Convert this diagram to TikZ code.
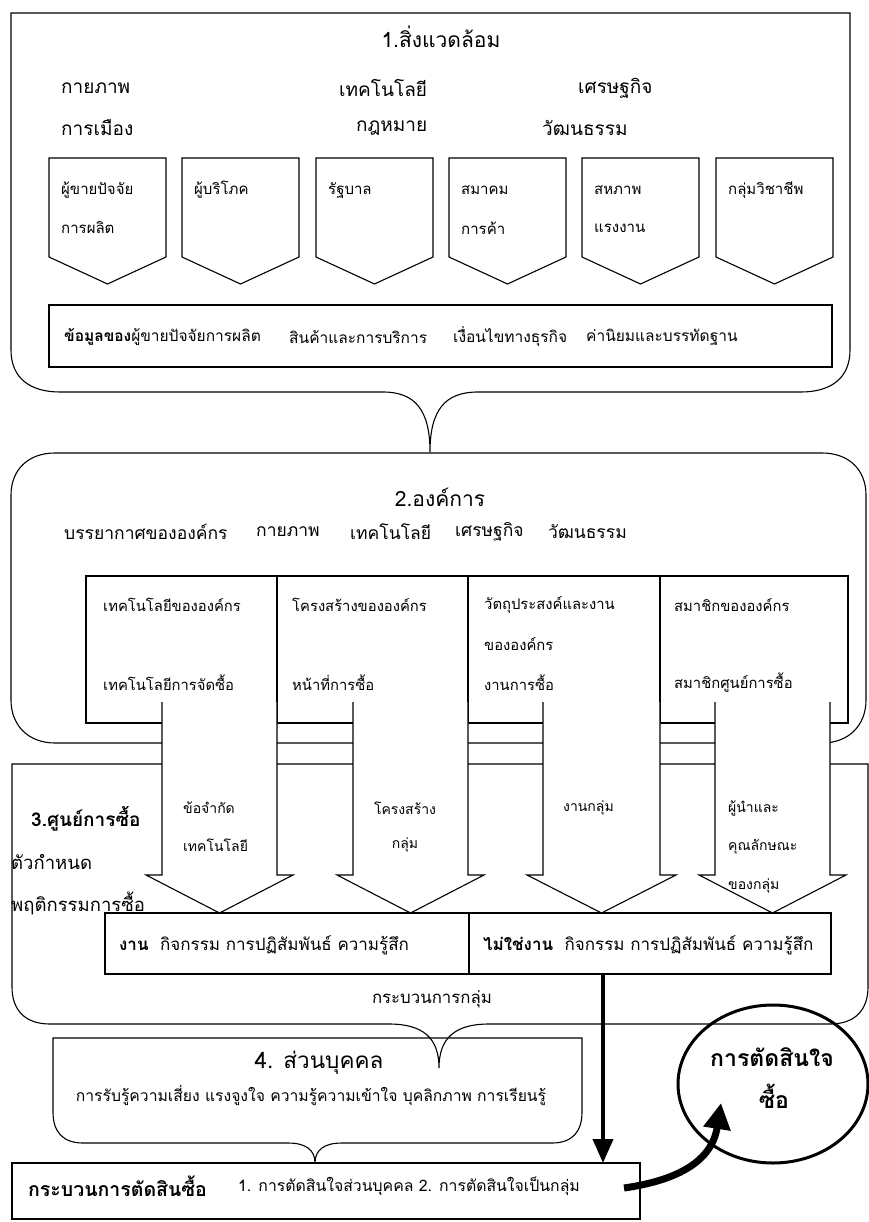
\documentclass[tikz,border=0pt]{standalone}
\usepackage{fontspec}
\newfontfamily\thai[Script=Thai]{Loma}
\usetikzlibrary{arrows.meta,calc,shapes.geometric}
\newcommand\tf[1]{\thai\fontsize{#1}{#1}\selectfont}
\begin{document}
\begin{tikzpicture}[x=1pt,y=-1pt,
  every node/.style={font=\tf{14.5}, inner sep=0pt},
  ln/.style={line width=1.1pt, line join=miter},
  lw/.style={anchor=west},
  ttl/.style={font=\tf{21}},
  envw/.style={anchor=west, font=\tf{19}},
  pent/.style={anchor=west, font=\tf{15}},
  info/.style={anchor=west, font=\tf{15.5}},
  orgw/.style={anchor=west, font=\tf{17.5}},
  cell/.style={anchor=west, font=\tf{14.8}},
  arr/.style={font=\tf{14}},
  side/.style={anchor=west, font=\tf{18.5}},
  tab/.style={anchor=west, font=\tf{17}},
  thickarr/.style={line width=4pt, -{Triangle[length=24pt,width=20pt]}},
]
\useasboundingbox (0,0) rectangle (869,1222);
\fill[white] (0,0) rectangle (869,1222);

% ---------- Box 1 ----------
\draw[ln] (430,452) .. controls (430,410) and (415,392) .. (383,392) -- (60,392)
  .. controls (30,392) and (11,378) .. (11,350) -- (11,13) -- (850,13) -- (850,350)
  .. controls (850,378) and (831,392) .. (801,392) -- (478,392)
  .. controls (445,392) and (430,410) .. (430,452);
\node[ttl] (t1) at (441,37) {1.สิ่งแวดล้อม};
\node[envw] (e1) at (61,88) {กายภาพ};
\node[envw] (e2) at (339,88) {เทคโนโลยี};
\node[envw] (e3) at (578,88) {เศรษฐกิจ};
\node[envw] (e4) at (61,128) {การเมือง};
\node[envw] (e5) at (356,128) {กฎหมาย};
\node[envw] (e6) at (542,128) {วัฒนธรรม};

\newcommand\pentshape[1]{\draw[ln] (#1,158) -- ++(117,0) -- ++(0,99) -- ++(-58.5,27) -- ++(-58.5,-27) -- cycle;}
\pentshape{49}\pentshape{182}\pentshape{316}\pentshape{449}\pentshape{582}\pentshape{716}
\node[pent] (p1a) at (61,190) {ผู้ขายปัจจัย};
\node[pent] (p1b) at (61,228) {การผลิต};
\node[pent] (p2a) at (194,190) {ผู้บริโภค};
\node[pent] (p3a) at (328,190) {รัฐบาล};
\node[pent] (p4a) at (461,190) {สมาคม};
\node[pent] (p4b) at (461,228) {การค้า};
\node[pent] (p5a) at (594,190) {สหภาพ};
\node[pent] (p5b) at (594,228) {แรงงาน};
\node[pent] (p6a) at (728,190) {กลุ่มวิชาชีพ};

\draw[ln] (49,305) rectangle (832,367);
\node[info] (i1) at (64,337) {\bfseries ข้อมูลของ\mdseries ผู้ขายปัจจัยการผลิต};
\node[info] (i2) at (289,337) {สินค้าและการบริการ};
\node[info] (i3) at (453,337) {เงื่อนไขทางธุรกิจ};
\node[info] (i4) at (586,337) {ค่านิยมและบรรทัดฐาน};

% ---------- Box 2 ----------
\draw[ln] (11,700) -- (11,495) .. controls (11,470) and (28,453) .. (55,453) -- (822,453)
  .. controls (849,453) and (866,470) .. (866,495) -- (866,700)
  .. controls (866,725) and (849,743) .. (822,743) -- (55,743)
  .. controls (28,743) and (11,725) .. (11,700);
\node[ttl] (t2) at (440,497) {2.องค์การ};
\node[orgw] (o1) at (64,532) {บรรยากาศขององค์กร};
\node[orgw] (o2) at (256,532) {กายภาพ};
\node[orgw] (o3) at (350,532) {เทคโนโลยี};
\node[orgw] (o4) at (455,532) {เศรษฐกิจ};
\node[orgw] (o5) at (548,532) {วัฒนธรรม};
\draw[ln] (86,576) rectangle (848,723);
\draw[ln] (277,576) -- (277,723) (468,576) -- (468,723) (660,576) -- (660,723);
\node[cell] (c1a) at (103,605) {เทคโนโลยีขององค์กร};
\node[cell] (c1b) at (103,683) {เทคโนโลยีการจัดซื้อ};
\node[cell] (c2a) at (292,605) {โครงสร้างขององค์กร};
\node[cell] (c2b) at (292,683) {หน้าที่การซื้อ};
\node[cell] (c3a) at (484,605) {วัตถุประสงค์และงาน};
\node[cell] (c3b) at (484,644) {ขององค์กร};
\node[cell] (c3c) at (484,683) {งานการซื้อ};
\node[cell] (c4a) at (674,605) {สมาชิกขององค์กร};
\node[cell] (c4b) at (674,683) {สมาชิกศูนย์การซื้อ};

% ---------- Box 3 ----------
\draw[ln] (12,764) -- (868,764) -- (868,987) .. controls (868,1010) and (855,1024) .. (830,1024)
  -- (489,1024) .. controls (455,1024) and (439,1038) .. (439,1068)
  .. controls (439,1038) and (423,1024) .. (389,1024) -- (50,1024)
  .. controls (25,1024) and (12,1010) .. (12,987) -- cycle;

% big hollow arrows
\foreach \L/\R in {162/277, 353/468, 543/660, 715/830}{
  \fill[white] (\L,702) -- (\L,875) -- (\L-16,875) -- ({(\L+\R)/2},913) -- (\R+16,875) -- (\R,875) -- (\R,702) -- cycle;
  \draw[ln] (\L,702) -- (\L,875) -- (\L-16,875) -- ({(\L+\R)/2},913) -- (\R+16,875) -- (\R,875) -- (\R,702);
}
\node[arr,anchor=west] (a1a) at (183,808) {ข้อจำกัด};
\node[arr,anchor=west] (a1b) at (183,845) {เทคโนโลยี};
\node[arr] (a2a) at (405,808) {โครงสร้าง};
\node[arr] (a2b) at (405,845) {กลุ่ม};
\node[arr,anchor=west] (a3a) at (563,808) {งานกลุ่ม};
\node[arr,anchor=west] (a4a) at (728,808) {ผู้นำและ};
\node[arr,anchor=west] (a4b) at (728,847) {คุณลักษณะ};
\node[arr,anchor=west] (a4c) at (728,886) {ของกลุ่ม};

\node[side,font=\thai\bfseries\fontsize{19}{19}\selectfont] (t3) at (31,819) {3.ศูนย์การซื้อ};
\node[side] (t3b) at (11,862) {ตัวกำหนด};
\node[side] (t3c) at (11,903) {พฤติกรรมการซื้อ};

\draw[ln] (105,913) rectangle (831,974);
\draw[ln] (469,913) -- (469,974);
\node[tab] (w1) at (119,945) {\bfseries งาน\mdseries\ \ กิจกรรม การปฏิสัมพันธ์ ความรู้สึก};
\node[tab] (w2) at (483,945) {\bfseries ไม่ใช่งาน\mdseries\ \ กิจกรรม การปฏิสัมพันธ์ ความรู้สึก};
\node[font=\tf{16.8}] (gp) at (432,999) {กระบวนการกลุ่ม};

% ---------- Box 4 ----------
\draw[ln] (53,1112) -- (53,1038) -- (582,1038) -- (582,1112)
  .. controls (582,1132) and (572,1143) .. (552,1143) -- (342,1143)
  .. controls (324,1143) and (315,1150) .. (315,1163)
  .. controls (315,1150) and (306,1143) .. (288,1143) -- (83,1143)
  .. controls (63,1143) and (53,1132) .. (53,1112);
\node[font=\tf{22.5}] (t4) at (319,1063) {4. ส่วนบุคคล};
\node[font=\tf{15.7}] (t4b) at (311,1095) {การรับรู้ความเสี่ยง แรงจูงใจ ความรู้ความเข้าใจ บุคลิกภาพ การเรียนรู้};

% ---------- Box 5 ----------
\draw[ln] (12,1163) rectangle (640,1219);
\node[lw,font=\thai\bfseries\fontsize{19.5}{19.5}\selectfont] (t5) at (28,1186) {กระบวนการตัดสินซื้อ};
\node[lw,font=\tf{15.8}] (t5b) at (238,1186) {1. การตัดสินใจส่วนบุคคล 2. การตัดสินใจเป็นกลุ่ม};

% ---------- decision circle ----------
\node[draw, line width=3pt, ellipse, minimum width=190pt, minimum height=158pt] (dec) at (773,1084) {};
\node[font=\thai\bfseries\fontsize{23}{23}\selectfont] (d1) at (772,1057) {การตัดสินใจ};
\node[font=\thai\bfseries\fontsize{23}{23}\selectfont] (d2) at (774,1096) {ซื้อ};

% connectors
\coordinate (va1) at (603,974);
\coordinate (va2) at (603,1163);
\draw[thickarr] (va1) -- (va2);
\coordinate (ca1) at (624,1188);
\coordinate (ca2) at (721,1103);
\draw[line width=7pt, -{Triangle[length=26pt,width=26pt]}] (ca1) .. controls (680,1180) and (712,1160) .. (ca2);
\end{tikzpicture}
\end{document}
